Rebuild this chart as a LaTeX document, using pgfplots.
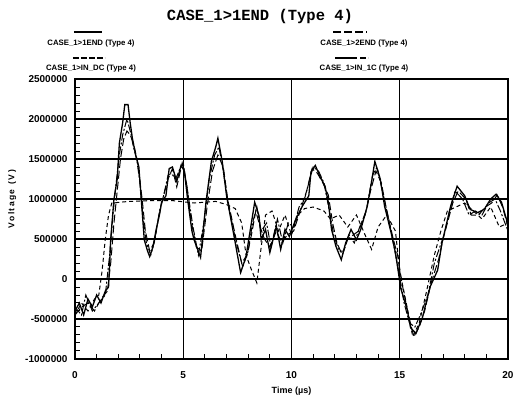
\documentclass[border=0pt]{standalone}
\usepackage{pgfplots}
\pgfplotsset{compat=1.18}
\usepackage{fontspec}
\setmainfont{Liberation Sans}
\newfontfamily\monofont{Liberation Mono}
\begin{document}
\begin{tikzpicture}
\begin{axis}[
  name=ax,
  scale only axis,
  width=433pt, height=280pt,
  xmin=0, xmax=20, ymin=-1000000, ymax=2500000,
  xtick={0,5,10,15,20},
  ytick={-1000000,-500000,0,500000,1000000,1500000,2000000,2500000},
  minor x tick num=4, minor y tick num=4,
  xtick pos=bottom, ytick pos=left,
  tick align=inside,
  major tick length=0pt, minor tick length=5pt,
  minor tick style={black, line width=1pt},
  grid=major,
  major grid style={black, line width=1.3pt},
  axis line style={black, line width=1.5pt},
  scaled y ticks=false,
  /pgf/number format/assume math mode=true,
  yticklabel style={/pgf/number format/fixed, /pgf/number format/1000 sep={}, font=\fontsize{10}{11}\selectfont\bfseries, xshift=-4pt},
  xticklabel style={font=\fontsize{10}{11}\selectfont\bfseries, yshift=-9pt},
  xlabel={Time (µs)},
  xlabel style={font=\fontsize{9}{10}\selectfont\bfseries, yshift=-2pt},
  ylabel={V\,o\,l\,t\,a\,g\,e\,\, (\,V\,)},
  ylabel style={font=\fontsize{8.5}{10}\selectfont\bfseries, at={(axis description cs:-0.145,0.57)}, anchor=center},
]
% CASE_1>1END solid
\addplot[black, line width=1.3pt] coordinates {
(0,-400000)(0.2,-300000)(0.4,-450000)(0.6,-250000)(0.8,-350000)(1.0,-200000)(1.2,-300000)(1.4,-150000)(1.55,-100000)(1.65,500000)(1.8,1000000)(1.95,1250000)(2.05,1700000)(2.2,1950000)(2.3,2180000)(2.45,2180000)(2.55,1950000)(2.65,1760000)(2.8,1550000)(2.95,1400000)(3.07,960000)(3.2,490000)(3.35,350000)(3.45,280000)(3.6,400000)(3.75,620000)(3.9,800000)(4.0,960000)(4.2,1040000)(4.35,1380000)(4.5,1400000)(4.7,1220000)(4.9,1420000)(5.05,1350000)(5.2,1000000)(5.4,600000)(5.5,490000)(5.8,270000)(6.05,960000)(6.3,1470000)(6.5,1650000)(6.6,1760000)(6.8,1470000)(7.0,1040000)(7.35,530000)(7.65,80000)(7.9,280000)(8.1,620000)(8.3,960000)(8.5,790000)(8.6,490000)(8.8,620000)(9.0,330000)(9.3,660000)(9.5,370000)(9.7,620000)(9.9,530000)(10.2,750000)(10.5,910000)(10.8,1040000)(10.9,1340000)(11.1,1420000)(11.3,1290000)(11.55,1160000)(11.7,960000)(11.85,620000)(12.05,410000)(12.3,240000)(12.5,450000)(12.75,620000)(13.0,490000)(13.2,620000)(13.5,910000)(13.7,1220000)(13.85,1470000)(14.1,1250000)(14.3,910000)(14.6,580000)(14.8,330000)(15.05,-120000)(15.35,-390000)(15.5,-610000)(15.75,-680000)(16.05,-480000)(16.4,-100000)(16.75,110000)(16.95,450000)(17.1,620000)(17.35,910000)(17.65,1160000)(18.0,1040000)(18.25,870000)(18.6,830000)(18.9,870000)(19.2,1000000)(19.45,1060000)(19.7,960000)(20.0,680000)
};
% CASE_1>2END long dash
\addplot[black, line width=1pt, dash pattern=on 8pt off 3pt] coordinates {
(0,-450000)(0.3,-350000)(0.6,-300000)(0.9,-400000)(1.2,-250000)(1.5,-150000)(1.65,200000)(1.8,700000)(1.95,1100000)(2.1,1500000)(2.25,1750000)(2.4,1850000)(2.55,1800000)(2.7,1700000)(2.9,1450000)(3.1,1000000)(3.25,600000)(3.45,350000)(3.65,450000)(3.85,750000)(4.05,1000000)(4.3,1250000)(4.5,1380000)(4.7,1150000)(4.95,1450000)(5.15,1200000)(5.35,750000)(5.6,400000)(5.85,350000)(6.1,900000)(6.35,1350000)(6.6,1550000)(6.85,1400000)(7.05,1000000)(7.4,550000)(7.7,200000)(7.95,300000)(8.15,550000)(8.35,850000)(8.55,650000)(8.75,500000)(9.0,400000)(9.3,600000)(9.55,450000)(9.8,550000)(10.1,600000)(10.4,850000)(10.7,1100000)(10.95,1380000)(11.2,1320000)(11.45,1200000)(11.7,1050000)(11.9,700000)(12.1,450000)(12.35,300000)(12.6,500000)(12.85,550000)(13.1,600000)(13.4,800000)(13.65,1100000)(13.9,1350000)(14.15,1200000)(14.4,850000)(14.7,500000)(14.9,300000)(15.1,-50000)(15.4,-450000)(15.65,-720000)(15.9,-600000)(16.15,-400000)(16.45,-50000)(16.8,250000)(17.0,500000)(17.2,700000)(17.45,950000)(17.7,1100000)(18.05,1000000)(18.3,800000)(18.65,800000)(18.95,900000)(19.25,950000)(19.5,1050000)(19.75,900000)(20,650000)
};
% CASE_1>IN_DC dashed
\addplot[black, line width=1pt, dash pattern=on 4pt off 3pt] coordinates {
(0,-450000)(0.3,-300000)(0.6,-400000)(0.9,-250000)(1.1,-200000)(1.25,100000)(1.4,500000)(1.55,800000)(1.7,950000)(2.5,970000)(3.5,980000)(4.5,980000)(5.5,950000)(6.5,970000)(7.0,930000)(7.4,880000)(7.7,700000)(7.9,300000)(8.1,150000)(8.4,-50000)(8.6,400000)(8.8,800000)(9.1,850000)(9.4,600000)(9.7,800000)(10.0,550000)(10.3,800000)(10.6,880000)(11.0,900000)(11.5,850000)(11.8,750000)(12.2,800000)(12.6,650000)(13.0,800000)(13.4,550000)(13.7,370000)(14.0,650000)(14.4,800000)(14.8,600000)(15.0,100000)(15.3,-300000)(15.6,-720000)(15.9,-550000)(16.2,-200000)(16.6,300000)(16.9,600000)(17.2,850000)(17.6,900000)(18.0,950000)(18.4,850000)(18.8,750000)(19.2,900000)(19.6,650000)(20.0,700000)
};
% CASE_1>IN_1C dash-dot
\addplot[black, line width=1pt, dash pattern=on 8pt off 2pt on 2pt off 2pt] coordinates {
(0,-350000)(0.3,-450000)(0.5,-200000)(0.8,-400000)(1.1,-300000)(1.4,-200000)(1.6,300000)(1.75,800000)(1.9,1200000)(2.05,1550000)(2.2,1800000)(2.4,2000000)(2.55,1850000)(2.7,1650000)(2.85,1500000)(3.0,1200000)(3.15,750000)(3.3,450000)(3.5,300000)(3.7,500000)(3.9,850000)(4.1,1050000)(4.3,1300000)(4.45,1320000)(4.65,1250000)(4.85,1380000)(5.0,1450000)(5.2,1100000)(5.45,650000)(5.7,300000)(5.95,700000)(6.2,1250000)(6.45,1550000)(6.65,1650000)(6.85,1350000)(7.1,900000)(7.45,450000)(7.75,150000)(8.0,350000)(8.2,700000)(8.4,900000)(8.6,600000)(8.85,700000)(9.05,400000)(9.35,750000)(9.6,450000)(9.85,700000)(10.1,650000)(10.35,900000)(10.6,1000000)(10.85,1250000)(11.0,1400000)(11.25,1350000)(11.5,1200000)(11.75,850000)(11.95,550000)(12.2,350000)(12.4,350000)(12.65,550000)(12.9,450000)(13.15,650000)(13.45,850000)(13.75,1300000)(13.95,1400000)(14.2,1100000)(14.45,800000)(14.7,450000)(14.95,100000)(15.2,-300000)(15.45,-550000)(15.7,-600000)(15.95,-450000)(16.3,-200000)(16.6,200000)(16.85,400000)(17.05,550000)(17.3,850000)(17.55,1100000)(17.9,1000000)(18.2,800000)(18.5,850000)(18.8,800000)(19.1,950000)(19.4,1000000)(19.65,850000)(20,600000)
};
\end{axis}
% title
\node[font=\monofont\fontsize{15.5}{17}\selectfont\bfseries] at ([xshift=185pt, yshift=63pt]ax.north west) {CASE\_1>1END (Type 4)};
% legend
\def\lgfont{\fontsize{7.8}{8}\selectfont\bfseries}
\draw[black, line width=2pt] ([xshift=-1pt, yshift=47pt]ax.north west) -- ++(28pt,0);
\node[font=\lgfont] at ([xshift=16pt, yshift=36pt]ax.north west) {CASE\_1>1END (Type 4)};
\draw[black, line width=2pt, dash pattern=on 8pt off 3pt] ([xshift=258pt, yshift=47pt]ax.north west) -- ++(34pt,0);
\node[font=\lgfont] at ([xshift=289pt, yshift=36pt]ax.north west) {CASE\_1>2END (Type 4)};
\draw[black, line width=2pt, dash pattern=on 6pt off 2pt] ([xshift=-2pt, yshift=21pt]ax.north west) -- ++(32pt,0);
\node[font=\lgfont] at ([xshift=16pt, yshift=11pt]ax.north west) {CASE\_1>IN\_DC (Type 4)};
\draw[black, line width=2pt, dash pattern=on 22pt off 3pt on 6pt off 2pt] ([xshift=260pt, yshift=21pt]ax.north west) -- ++(33pt,0);
\node[font=\lgfont] at ([xshift=289pt, yshift=11pt]ax.north west) {CASE\_1>IN\_1C (Type 4)};
\pgfresetboundingbox
\path[use as bounding box] ([xshift=-75pt, yshift=-40pt]ax.south west) rectangle ++(515pt,399pt);
\end{tikzpicture}
\end{document}
